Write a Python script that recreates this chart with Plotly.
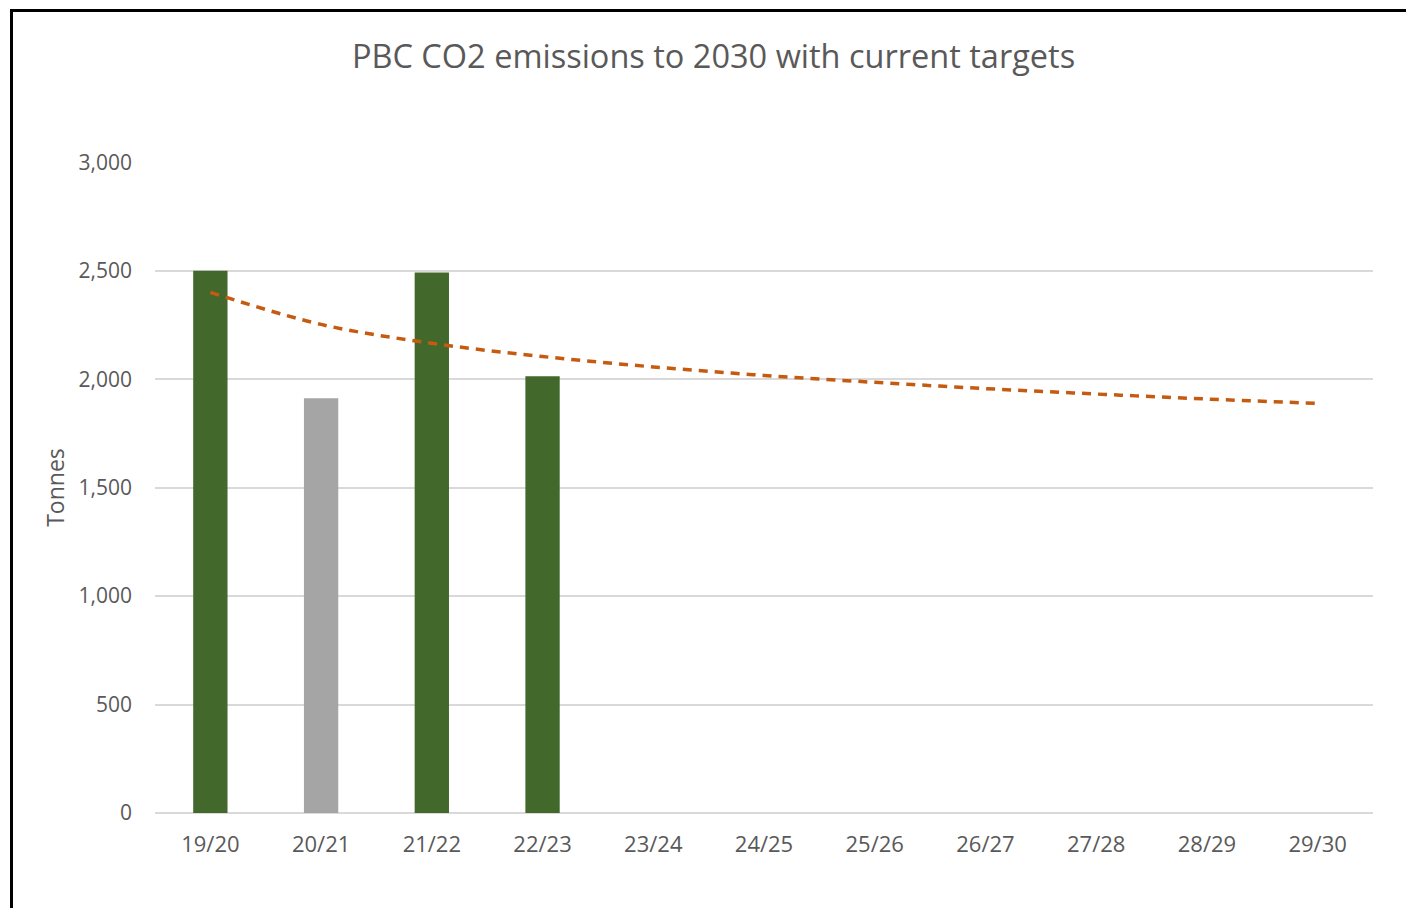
import plotly.graph_objects as go

years = ["19/20", "20/21", "21/22", "22/23", "23/24", "24/25",
         "25/26", "26/27", "27/28", "28/29", "29/30"]
actual_years = ["19/20", "20/21", "21/22", "22/23"]
actual_tonnes = [2500, 1912, 2493, 2014]
target_tonnes = [2401, 2253, 2166, 2105, 2057, 2018, 1986, 1957, 1932, 1909, 1889]

bar_colors = ["#43682B", "#A5A5A5", "#43682B", "#43682B"]
FONT = "Open Sans, Lato, DejaVu Sans, sans-serif"
TXT = "#595959"

W, H = 1406, 908
L, R, T, B = 155, 33, 162, 95
pw, ph = W - L - R, H - T - B

def px(x):
    return (x - L) / pw

def py(y):
    return (H - B - y) / ph

fig = go.Figure()
fig.add_trace(go.Bar(x=actual_years, y=actual_tonnes,
                     marker=dict(color=bar_colors, line=dict(width=0)),
                     width=0.31, hoverinfo="x+y"))
fig.add_trace(go.Scatter(x=years, y=target_tonnes, mode="lines",
                         line=dict(color="#C55A11", width=3.5, dash="9px,7px", shape="spline"),
                         hoverinfo="x+y"))

fig.update_layout(
    width=W, height=H,
    margin=dict(l=L, r=R, t=T, b=B),
    paper_bgcolor="white", plot_bgcolor="white",
    showlegend=False,
    font=dict(family=FONT, color=TXT),
    title=dict(text="PBC CO2 emissions to 2030 with current targets",
               x=0.5075, xanchor="center", y=1 - 57 / H, yanchor="middle",
               font=dict(size=32.5, color=TXT, family=FONT)),
    xaxis=dict(type="category", categoryorder="array", categoryarray=years,
               range=[-0.5, len(years) - 0.5],
               showgrid=False, showline=False, zeroline=False,
               tickfont=dict(size=22, color=TXT), ticks="", ticklabelstandoff=16),
    yaxis=dict(range=[0, 3002], tickvals=[0, 500, 1000, 1500, 2000, 2500, 3000],
               tickformat=",d", showgrid=True, gridcolor="#D9D9D9", gridwidth=2,
               zeroline=True, zerolinecolor="#D9D9D9", zerolinewidth=2,
               showline=False, ticks="", ticklabelstandoff=22,
               tickfont=dict(size=21, color=TXT),
               title=dict(text="Tonnes", font=dict(size=23, color=TXT), standoff=7)),
    shapes=[
        dict(type="line", xref="paper", yref="paper",
             x0=px(11.5), y0=py(910), x1=px(11.5), y1=py(10.5),
             line=dict(color="black", width=3)),
        dict(type="line", xref="paper", yref="paper",
             x0=px(10), y0=py(10.5), x1=px(1410), y1=py(10.5),
             line=dict(color="black", width=3)),
    ],
)

fig.write_html("out.html", config={"displayModeBar": False},
               post_script="document.body.style.margin='0';document.body.style.overflow='hidden';")
